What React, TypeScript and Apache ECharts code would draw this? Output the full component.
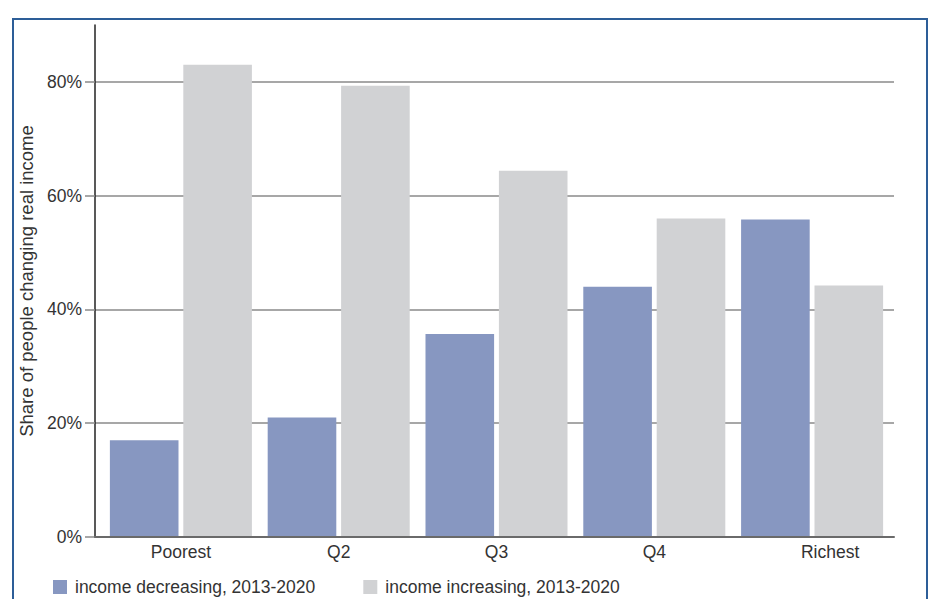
import React, { useEffect, useRef } from "react";
import * as echarts from "echarts";

const categories = ["Poorest", "Q2", "Q3", "Q4", "Richest"];
const decreasing = [17, 21, 35.7, 44, 55.8];
const increasing = [83, 79.3, 64.4, 56, 44.2];
const yTicks = [0, 20, 40, 60, 80];
const seriesNames = ["income decreasing, 2013-2020", "income increasing, 2013-2020"];
const yName = "Share of people changing real income";

const FONT = "'Liberation Sans', Arial, sans-serif";
const TEXT = "#333333";

export default function App() {
  const ref = useRef<HTMLDivElement>(null);
  useEffect(() => {
    if (!ref.current) return;
    const chart = echarts.init(ref.current, undefined, { renderer: "svg" });
    chart.setOption({
      animation: false,
      textStyle: { fontFamily: FONT },
      graphic: [
        {
          type: "rect",
          shape: { x: 13, y: 19, width: 914, height: 600 },
          style: { fill: "none", stroke: "#2d5e98", lineWidth: 2 },
          z: 10,
        },
      ],
      legend: {
        left: 48,
        top: 573,
        itemWidth: 14,
        itemHeight: 14,
        itemGap: 48,
        icon: "rect",
        data: seriesNames,
        textStyle: { fontFamily: FONT, fontSize: 17.5, color: TEXT, padding: [0, 0, 0, 3] },
      },
      grid: [
        { left: 95, right: 38, top: 25, bottom: 62, outerBoundsMode: "none" },
        { left: 102, right: 41, top: 25, bottom: 62, outerBoundsMode: "none" },
      ],
      xAxis: [
        {
          type: "category",
          gridIndex: 0,
          data: categories,
          axisLine: { show: true, lineStyle: { color: "#6a6a6a", width: 2 } },
          axisTick: { show: false },
          axisLabel: { show: false },
          splitLine: { show: false },
          z: 5,
        },
        {
          type: "category",
          gridIndex: 1,
          data: categories,
          axisLine: { show: false },
          axisTick: { show: false },
          axisLabel: {
            fontFamily: FONT,
            fontSize: 17.5,
            color: TEXT,
            margin: 6,
            formatter: (v: string) => (v === "Richest" ? "{r|" + v + "}" : v),
            rich: { r: { fontFamily: FONT, fontSize: 17.5, color: TEXT, padding: [0, 0, 0, 36] } },
          },
        },
      ],
      yAxis: [
        {
          type: "value",
          gridIndex: 0,
          min: 0,
          max: 90,
          interval: 20,
          name: yName,
          nameLocation: "middle",
          nameGap: 56,
          nameRotate: 90,
          nameTextStyle: { fontFamily: FONT, fontSize: 18.5, color: TEXT },
          axisLine: { show: true, lineStyle: { color: "#222222", width: 1.5 } },
          axisTick: {
            show: true,
            length: 10,
            customValues: yTicks,
            lineStyle: { color: "#8a8a8a", width: 1.5 },
          },
          axisLabel: {
            customValues: yTicks,
            formatter: "{value}%",
            fontFamily: FONT,
            fontSize: 17.5,
            color: TEXT,
            margin: 13,
          },
          splitLine: {
            show: true,
            showMinLine: false,
            lineStyle: { color: "#8a8a8a", width: 1.5 },
          },
        },
        {
          type: "value",
          gridIndex: 1,
          min: 0,
          max: 90,
          show: false,
          splitLine: { show: false },
        },
      ],
      series: [
        {
          name: seriesNames[0],
          type: "bar",
          xAxisIndex: 1,
          yAxisIndex: 1,
          data: decreasing,
          barCategoryGap: "10%",
          barGap: "7%",
          itemStyle: { color: "#8797c1" },
        },
        {
          name: seriesNames[1],
          type: "bar",
          xAxisIndex: 1,
          yAxisIndex: 1,
          data: increasing,
          barCategoryGap: "10%",
          barGap: "7%",
          itemStyle: { color: "#d1d2d4" },
        },
      ],
    });
    return () => chart.dispose();
  }, []);
  return <div ref={ref} style={{ width: 932, height: 599, position: "absolute", left: 0, top: 0 }} />;
}
